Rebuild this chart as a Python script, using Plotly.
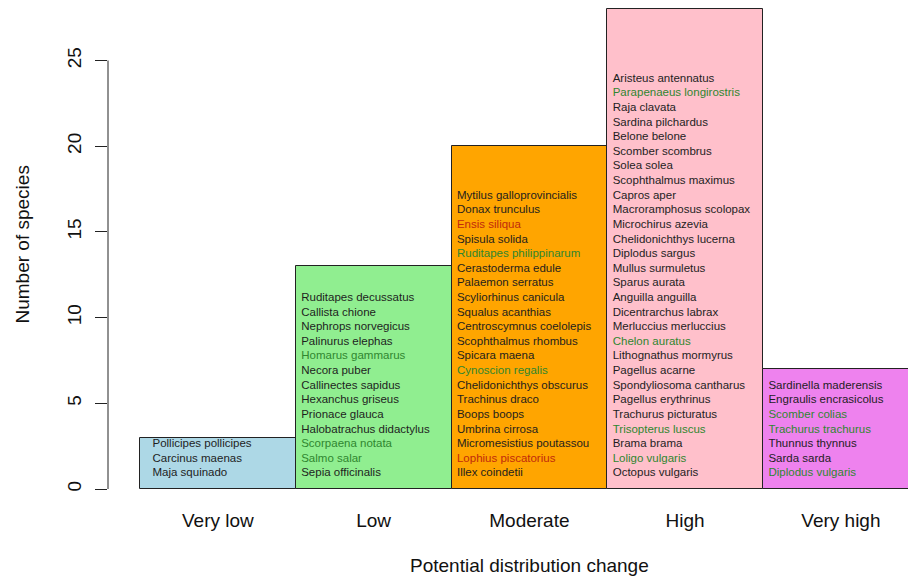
import plotly.graph_objects as go

categories = ["Very low", "Low", "Moderate", "High", "Very high"]
bar_colors = ["#ADD8E6", "#90EE90", "#FFA500", "#FFC0CB", "#EE82EE"]

very_low = ["Pollicipes pollicipes", "Carcinus maenas", "Maja squinado"]
low = ["Ruditapes decussatus", "Callista chione", "Nephrops norvegicus",
       "Palinurus elephas", "Homarus gammarus", "Necora puber",
       "Callinectes sapidus", "Hexanchus griseus", "Prionace glauca",
       "Halobatrachus didactylus", "Scorpaena notata", "Salmo salar",
       "Sepia officinalis"]
moderate = ["Mytilus galloprovincialis", "Donax trunculus", "Ensis siliqua",
            "Spisula solida", "Ruditapes philippinarum", "Cerastoderma edule",
            "Palaemon serratus", "Scyliorhinus canicula", "Squalus acanthias",
            "Centroscymnus coelolepis", "Scophthalmus rhombus", "Spicara maena",
            "Cynoscion regalis", "Chelidonichthys obscurus", "Trachinus draco",
            "Boops boops", "Umbrina cirrosa", "Micromesistius poutassou",
            "Lophius piscatorius", "Illex coindetii"]
high = ["Aristeus antennatus", "Parapenaeus longirostris", "Raja clavata",
        "Sardina pilchardus", "Belone belone", "Scomber scombrus", "Solea solea",
        "Scophthalmus maximus", "Capros aper", "Macroramphosus scolopax",
        "Microchirus azevia", "Chelidonichthys lucerna", "Diplodus sargus",
        "Mullus surmuletus", "Sparus aurata", "Anguilla anguilla",
        "Dicentrarchus labrax", "Merluccius merluccius", "Chelon auratus",
        "Lithognathus mormyrus", "Pagellus acarne", "Spondyliosoma cantharus",
        "Pagellus erythrinus", "Trachurus picturatus", "Trisopterus luscus",
        "Brama brama", "Loligo vulgaris", "Octopus vulgaris"]
very_high = ["Sardinella maderensis", "Engraulis encrasicolus", "Scomber colias",
             "Trachurus trachurus", "Thunnus thynnus", "Sarda sarda",
             "Diplodus vulgaris"]

green_species = ["Homarus gammarus", "Scorpaena notata", "Salmo salar",
                 "Ruditapes philippinarum", "Cynoscion regalis",
                 "Parapenaeus longirostris", "Chelon auratus",
                 "Trisopterus luscus", "Loligo vulgaris", "Scomber colias",
                 "Trachurus trachurus", "Diplodus vulgaris"]
red_species = ["Ensis siliqua", "Lophius piscatorius"]

y_tick_values = [0, 5, 10, 15, 20, 25]
x_title = "Potential distribution change"
y_title = "Number of species"

species_lists = [very_low, low, moderate, high, very_high]
counts = [len(s) for s in species_lists]
xs = list(range(len(categories)))

FONT = "Liberation Sans, Arial, Helvetica, sans-serif"
BLACK = "#1e1e1e"
GREEN = "#2f862f"
RED = "#bf2a0c"

fig = go.Figure()
fig.add_trace(go.Bar(
    x=xs, y=counts, width=1.0,
    marker=dict(color=bar_colors, line=dict(color="#222222", width=1)),
    hoverinfo="skip", showlegend=False,
))

# species names stacked inside each bar
text_offsets = [0.08, 0.035, 0.035, 0.035, 0.035]
base_y = 0.90
step_y = 0.853
tx, ty, tt, tc = [], [], [], []
for i, names in enumerate(species_lists):
    n = len(names)
    for j, name in enumerate(names):
        tx.append(xs[i] - 0.5 + text_offsets[i])
        ty.append(base_y + (n - 1 - j) * step_y)
        tt.append(name)
        if name in green_species:
            tc.append(GREEN)
        elif name in red_species:
            tc.append(RED)
        else:
            tc.append(BLACK)

fig.add_trace(go.Scatter(
    x=tx, y=ty, text=tt, mode="text", textposition="middle right",
    textfont=dict(family=FONT, size=11.5, color=tc),
    hoverinfo="skip", showlegend=False, cliponaxis=False,
))

x_lo = -0.7055
x_hi = x_lo + 800 / 155.75
y_hi = 489 / 17.14

fig.update_layout(
    width=908, height=578,
    margin=dict(l=108, r=0, t=0, b=89),
    paper_bgcolor="white", plot_bgcolor="white",
    font=dict(family=FONT, color="#111111"),
    bargap=0,
    xaxis=dict(range=[x_lo, x_hi], tickvals=xs, ticktext=categories,
               showgrid=False, zeroline=False, showline=False, ticks="",
               tickfont=dict(size=19, color="#111111"), ticklabelstandoff=18),
    yaxis=dict(range=[0, y_hi], tickvals=y_tick_values, showgrid=False,
               zeroline=False, showline=False, ticks="outside", ticklen=12,
               tickwidth=1, tickcolor="#222222", tickangle=-90,
               tickfont=dict(size=19, color="#111111"), ticklabelstandoff=6),
    shapes=[dict(type="line", xref="paper", yref="y", x0=0, x1=0,
                 y0=y_tick_values[0], y1=y_tick_values[-1],
                 line=dict(color="#222222", width=1))],
    annotations=[
        dict(text=x_title, xref="x", yref="paper", x=2, y=0, yshift=-76,
             showarrow=False, font=dict(size=19, color="#111111"),
             xanchor="center", yanchor="middle"),
        dict(text=y_title, xref="paper", yref="paper", x=0, xshift=-86,
             y=0.5, textangle=-90, showarrow=False,
             font=dict(size=19, color="#111111"),
             xanchor="center", yanchor="middle"),
    ],
)

fig.write_html(
    "out.html",
    config={"displayModeBar": False},
    post_script="document.body.style.margin='0';document.body.style.overflow='hidden';",
)
